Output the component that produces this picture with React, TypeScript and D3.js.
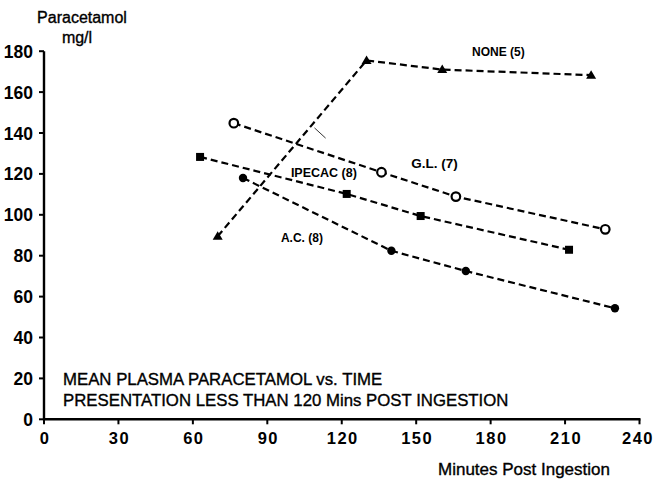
import React from "react";
import * as d3 from "d3";

const W = 656;
const H = 482;

const xTicks = [0, 30, 60, 90, 120, 150, 180, 210, 240];
const yTicks = [0, 20, 40, 60, 80, 100, 120, 140, 160, 180];

const noneX = [70, 130, 160.5, 220.5];
const noneY = [89.5, 175.5, 171, 168.3];
const glX = [76.5, 136, 166, 226.2];
const glY = [144.8, 120.8, 108.9, 92.9];
const ipecacX = [62.9, 122, 151.8, 211.6];
const ipecacY = [128.3, 110.2, 99.4, 82.9];
const acX = [80.2, 140, 170, 230.1];
const acY = [118, 82.4, 72.5, 54.3];

const seriesLabels = ["NONE (5)", "G.L. (7)", "IPECAC (8)", "A.C. (8)"];
const titleLines = [
  "MEAN PLASMA PARACETAMOL vs. TIME",
  "PRESENTATION LESS THAN 120 Mins POST INGESTION",
];

const x = d3.scaleLinear().domain([0, 240]).range([44, 639.5]);
const y = d3.scaleLinear().domain([0, 180]).range([419.3, 51.2]);

const font = "'Liberation Sans', Arial, Helvetica, sans-serif";

function pts(xs: number[], ys: number[]): [number, number][] {
  return xs.map((v, i) => [v, ys[i]]);
}

const line = d3
  .line<[number, number]>()
  .x((d) => x(d[0]))
  .y((d) => y(d[1]));

export default function App() {
  const none = pts(noneX, noneY);
  const gl = pts(glX, glY);
  const ip = pts(ipecacX, ipecacY);
  const ac = pts(acX, acY);
  const dash = "7,4";
  const sw = 2.2;
  const heavy = { stroke: "#000", strokeWidth: 0.35 };
  return (
    <svg width={W} height={H} style={{ position: "absolute", left: 0, top: 0, background: "#fff" }}>
      <rect x={0} y={0} width={W} height={H} fill="#fff" />
      {/* axes */}
      <line x1={x(0)} x2={x(0)} y1={y(180)} y2={y(0) + 1} stroke="#000" strokeWidth={2.4} />
      <line x1={x(0) - 1} x2={x(240) + 1} y1={y(0)} y2={y(0)} stroke="#000" strokeWidth={2.4} />
      {yTicks.map((t) => (
        <g key={"y" + t}>
          <line x1={x(0) - 5} x2={x(0)} y1={y(t)} y2={y(t)} stroke="#000" strokeWidth={2} />
          <text x={x(0) - 11} y={y(t) + 6.5} textAnchor="end" fontFamily={font} fontWeight="bold" fontSize={17.5}>
            {t}
          </text>
        </g>
      ))}
      {xTicks.map((t) => (
        <g key={"x" + t}>
          <line x1={x(t)} x2={x(t)} y1={y(0)} y2={y(0) + 5} stroke="#000" strokeWidth={2} />
          <text
            x={t === 240 ? Math.min(x(t), 638) : x(t) + 1}
            y={y(0) + 25}
            textAnchor="middle"
            fontFamily={font}
            fontWeight="bold"
            fontSize={16.5}
            letterSpacing={1.5}
          >
            {t}
          </text>
        </g>
      ))}
      <text x={82} y={23} textAnchor="middle" fontFamily={font} fontSize={16} {...heavy}>Paracetamol</text>
      <text x={77} y={43} textAnchor="middle" fontFamily={font} fontSize={16} {...heavy}>mg/l</text>
      <text x={524} y={475} textAnchor="middle" fontFamily={font} fontSize={17} {...heavy}>Minutes Post Ingestion</text>
      {titleLines.map((t, i) => (
        <text key={t} x={63} y={384.5 + i * 21} fontFamily={font} fontSize={16.8} {...heavy}>
          {t}
        </text>
      ))}
      {/* series lines */}
      {[none, gl, ip, ac].map((s, i) => (
        <path key={"l" + i} d={line(s) || ""} fill="none" stroke="#000" strokeWidth={sw} strokeDasharray={dash} />
      ))}
      {/* stray mark */}
      <line x1={x(109)} y1={y(142.5)} x2={x(113.5)} y2={y(137.5)} stroke="#000" strokeWidth={0.8} />
      {/* markers */}
      {none.map((d, i) => {
        const cx = x(d[0]);
        const cy = y(d[1]);
        const s = 5;
        return (
          <path key={"t" + i} d={`M${cx},${cy - s}L${cx + s},${cy + s * 0.7}L${cx - s},${cy + s * 0.7}Z`} fill="#000" />
        );
      })}
      {gl.map((d, i) => (
        <circle key={"g" + i} cx={x(d[0])} cy={y(d[1])} r={4.3} fill="#fff" stroke="#000" strokeWidth={2.2} />
      ))}
      {ip.map((d, i) => (
        <rect key={"s" + i} x={x(d[0]) - 4} y={y(d[1]) - 4} width={8} height={8} fill="#000" />
      ))}
      {ac.map((d, i) => (
        <circle key={"c" + i} cx={x(d[0])} cy={y(d[1])} r={4.2} fill="#000" />
      ))}
      {/* series labels */}
      <text x={x(172.5)} y={y(177.5)} fontFamily={font} fontWeight="bold" fontSize={12}>{seriesLabels[0]}</text>
      <text x={x(148)} y={y(123)} fontFamily={font} fontWeight="bold" fontSize={13.5}>{seriesLabels[1]}</text>
      <text x={x(99.5)} y={y(118.5)} fontFamily={font} fontWeight="bold" fontSize={12.5}>{seriesLabels[2]}</text>
      <text x={x(95.5)} y={y(86.5)} fontFamily={font} fontWeight="bold" fontSize={12}>{seriesLabels[3]}</text>
    </svg>
  );
}
